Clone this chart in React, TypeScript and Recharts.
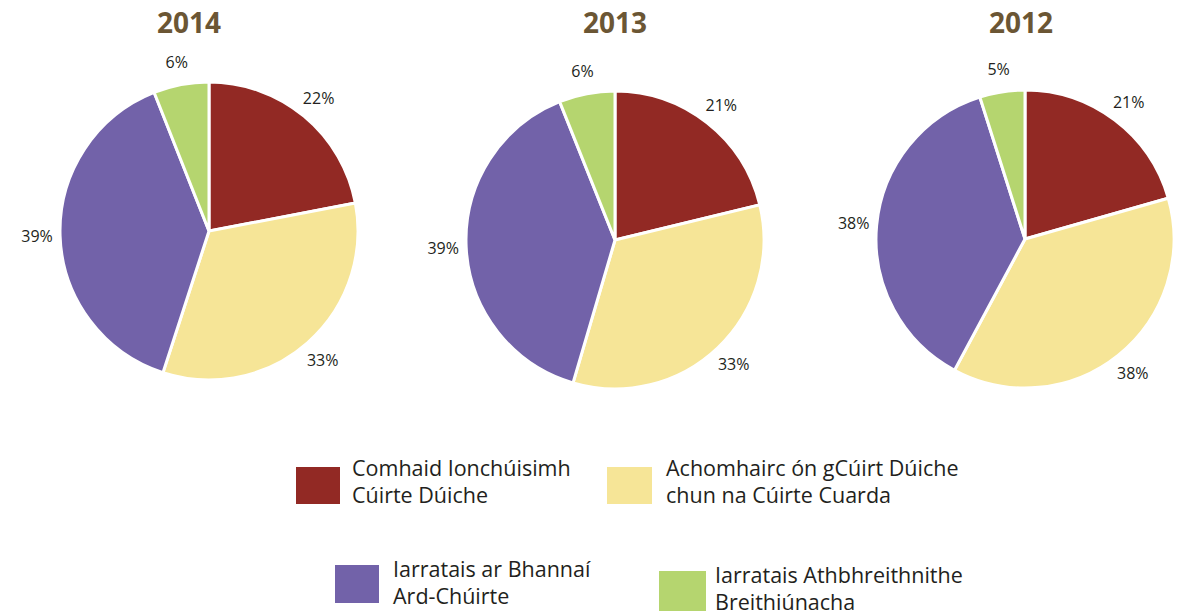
import { Cell, Pie, PieChart } from 'recharts'

const years = ['2014', '2013', '2012']
const categories = [
  'Comhaid Ionchúisimh Cúirte Dúiche',
  'Achomhairc ón gCúirt Dúiche chun na Cúirte Cuarda',
  'Iarratais ar Bhannaí Ard-Chúirte',
  'Iarratais Athbhreithnithe Breithiúnacha',
]
const legendLines = [
  ['Comhaid Ionchúisimh', 'Cúirte Dúiche'],
  ['Achomhairc ón gCúirt Dúiche', 'chun na Cúirte Cuarda'],
  ['Iarratais ar Bhannaí', 'Ard-Chúirte'],
  ['Iarratais Athbhreithnithe', 'Breithiúnacha'],
]
const values2014 = [22, 33, 39, 6]
const values2013 = [21, 33, 39, 6]
const values2012 = [21, 38, 38, 5]

const COLORS = ['#922924', '#f6e597', '#7262a9', '#b5d56f']
const FONT = '"Open Sans", "Noto Sans", sans-serif'

const seriesByYear = [values2014, values2013, values2012]
const pieCenters = [
  { cx: 209, cy: 231 },
  { cx: 615, cy: 240 },
  { cx: 1025, cy: 239 },
]
const titleX = [189, 615, 1021]

const RAD = Math.PI / 180

function renderLabel(props: any) {
  const { cx, cy, midAngle, outerRadius, value } = props
  const r = outerRadius + 23
  const x = cx + r * Math.cos(-midAngle * RAD)
  const y = cy + r * Math.sin(-midAngle * RAD)
  return (
    <text
      x={x}
      y={y}
      fill="#231f20"
      fontSize={16}
      fontFamily={FONT}
      textAnchor="middle"
      dominantBaseline="central"
    >
      {`${value}%`}
    </text>
  )
}

const legendItems = [
  { box: { left: 296, top: 467, width: 44, height: 37 }, textLeft: 352, textTop: 454 },
  { box: { left: 607, top: 467, width: 45, height: 37 }, textLeft: 666, textTop: 454 },
  { box: { left: 335, top: 565, width: 44, height: 38 }, textLeft: 393, textTop: 555 },
  { box: { left: 659, top: 571, width: 47, height: 40 }, textLeft: 715, textTop: 561 },
]

export default function App() {
  return (
    <div
      style={{
        position: 'absolute',
        left: 0,
        top: 0,
        width: 1200,
        height: 614,
        background: '#ffffff',
        fontFamily: FONT,
        overflow: 'hidden',
      }}
    >
      {years.map((y, i) => (
        <div
          key={y}
          style={{
            position: 'absolute',
            left: titleX[i] - 60,
            width: 120,
            top: 2,
            textAlign: 'center',
            fontSize: 28,
            fontWeight: 700,
            color: '#6b5634',
            lineHeight: '40px',
          }}
        >
          {y}
        </div>
      ))}
      <div style={{ position: 'absolute', left: 0, top: 0 }}>
        <PieChart width={1200} height={430} margin={{ top: 0, right: 0, bottom: 0, left: 0 }}>
          {seriesByYear.map((vals, i) => (
            <Pie
              key={years[i]}
              data={vals.map((v, k) => ({ name: categories[k], value: v }))}
              dataKey="value"
              cx={pieCenters[i].cx}
              cy={pieCenters[i].cy}
              outerRadius={149}
              startAngle={90}
              endAngle={-270}
              stroke="#ffffff"
              strokeWidth={3}
              label={renderLabel}
              labelLine={false}
              isAnimationActive={false}
            >
              {vals.map((_, k) => (
                <Cell key={k} fill={COLORS[k]} />
              ))}
            </Pie>
          ))}
        </PieChart>
      </div>
      {legendItems.map((item, i) => (
        <div key={i}>
          <div
            style={{
              position: 'absolute',
              ...item.box,
              background: COLORS[i],
            }}
          />
          <div
            style={{
              position: 'absolute',
              left: item.textLeft,
              top: item.textTop,
              fontSize: 21.5,
              lineHeight: '27px',
              color: '#231f20',
              whiteSpace: 'nowrap',
            }}
          >
            {legendLines[i].map((line) => (
              <div key={line}>{line}</div>
            ))}
          </div>
        </div>
      ))}
    </div>
  )
}
